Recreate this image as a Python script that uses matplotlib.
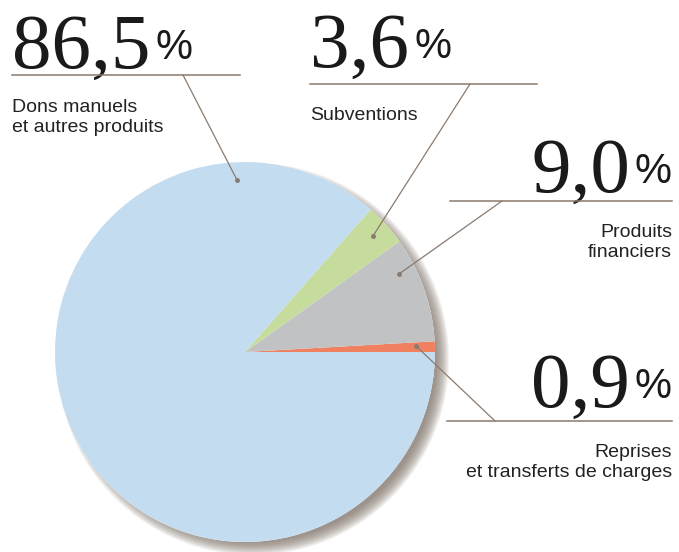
import matplotlib.pyplot as plt
from matplotlib.patches import Circle

# data
labels = ['Reprises\net transferts de charges', 'Produits\nfinanciers', 'Subventions', 'Dons manuels\net autres produits']
values = [0.9, 9.0, 3.6, 86.5]
pct_labels = ['0,9', '9,0', '3,6', '86,5']
colors = ['#ef8060', '#c1c2c4', '#c6dc9c', '#c4dcef']

W, H = 679, 552
fig = plt.figure(figsize=(W / 100, H / 100), dpi=100)
ax = fig.add_axes([0, 0, 1, 1])

cx, cy, r = 245, H - 352, 190

# soft shadow
for i in range(14):
    ax.add_patch(Circle((cx + 8, cy - 7), r + 6 - i, color='#7d7068', alpha=0.09, lw=0, zorder=1))
ax.add_patch(Circle((cx, cy), r, color='white', lw=0, zorder=1.5))

ax.pie(values, colors=colors, startangle=0, counterclock=True, radius=r, center=(cx, cy),
       wedgeprops=dict(linewidth=0, zorder=3), frame=True)
ax.set_xlim(0, W)
ax.set_ylim(0, H)
ax.set_aspect('equal')
ax.axis('off')

lc = '#8a7a6e'
# horizontal rule (x0, x1, y), leader start x, dot (x, y)
rules = [
    (447, 672, 421, 495, (416, 346)),
    (450, 672, 201, 502, (399, 274)),
    (310, 537, 84, 470, (373, 236)),
    (12, 240, 75, 183, (237, 180)),
]
for x0, x1, y, lx, (dx, dy) in rules:
    ax.plot([x0, x1], [H - y, H - y], color=lc, lw=1.1, zorder=5)
    ax.plot([lx, dx], [H - y, H - dy], color=lc, lw=0.9, zorder=5)
    ax.plot(dx, H - dy, 'o', color=lc, ms=2.5, zorder=6)

num_font = dict(family='Liberation Serif', fontsize=57, color='#1a1a1a')
pct_font = dict(family='Liberation Sans', fontsize=30, color='#1a1a1a')
lab_font = dict(family='Liberation Sans', fontsize=14, color='#222222', linespacing=1.25)

fig.canvas.draw()
rend = fig.canvas.get_renderer()
inv = ax.transData.inverted()

def width_of(t):
    bb = t.get_window_extent(renderer=rend)
    return inv.transform((bb.x1, 0))[0] - inv.transform((bb.x0, 0))[0]

# (number, align, x, baseline y, label, label x, label top y)
items = [
    (pct_labels[3], 'left', 12, 68, labels[3], 12, 99),
    (pct_labels[2], 'left', 310, 67, labels[2], 310, 107),
    (pct_labels[1], 'right', 672, 192, labels[1], 672, 224),
    (pct_labels[0], 'right', 672, 407, labels[0], 672, 444),
]
for num, ha, x, base, lab, lx, ly in items:
    if ha == 'left':
        t = ax.text(x, H - base, num, ha='left', va='baseline', **num_font)
        w = width_of(t)
        ax.text(x + w + 5, H - base + 9, '%', ha='left', va='baseline', **pct_font)
        ax.text(lx, H - ly, lab, ha='left', va='top', **lab_font)
    else:
        p = ax.text(x, H - base + 9, '%', ha='right', va='baseline', **pct_font)
        w = width_of(p)
        ax.text(x - w - 5, H - base, num, ha='right', va='baseline', **num_font)
        ax.text(lx, H - ly, lab, ha='right', va='top', multialignment='right', **lab_font)

fig.savefig('out.png', dpi=100)
